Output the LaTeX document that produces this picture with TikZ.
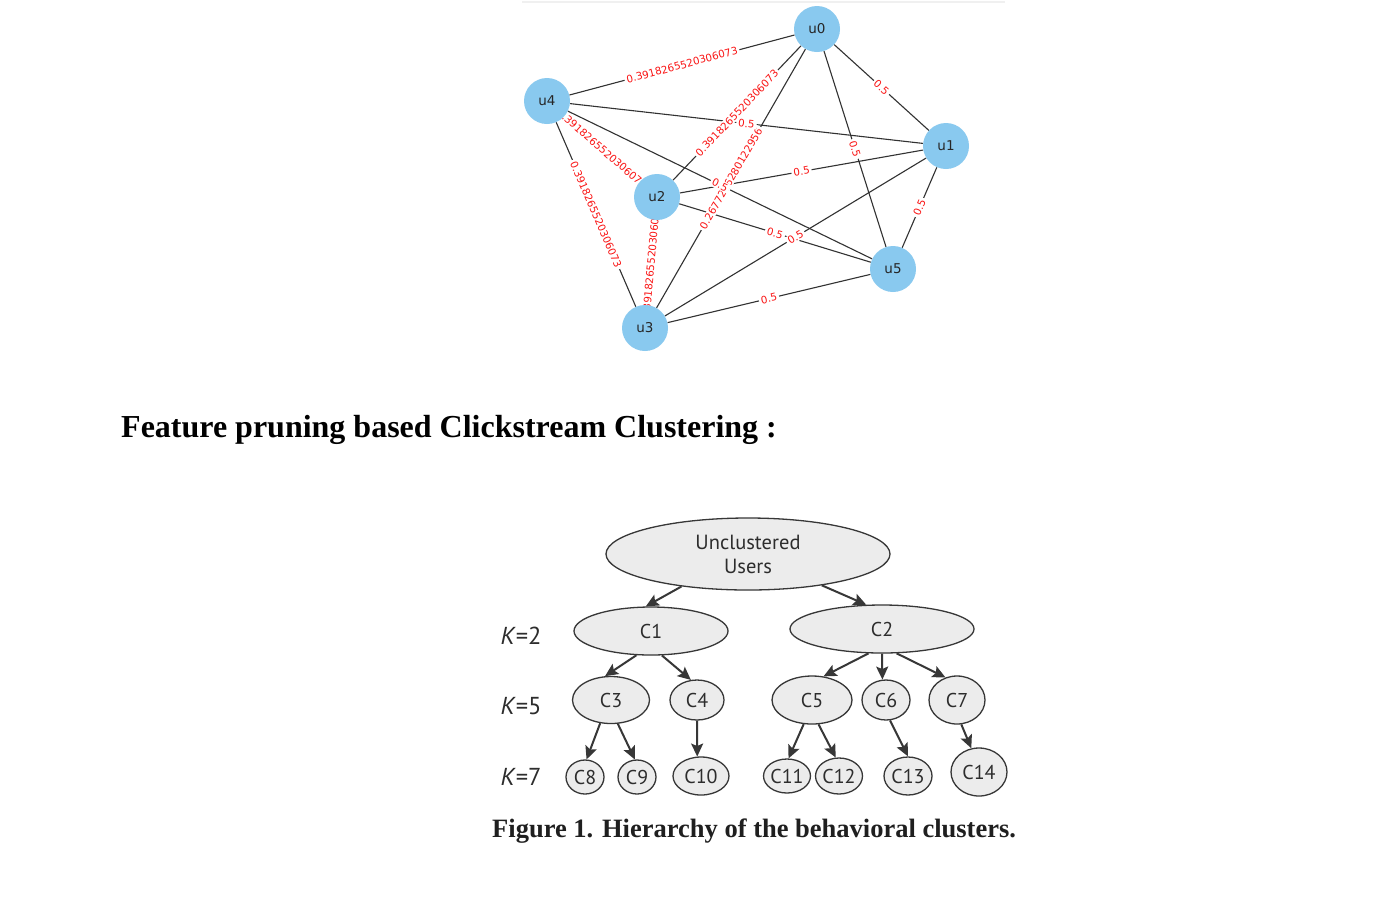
\documentclass[tikz,border=0pt]{standalone}
\usepackage{fontspec}
\setmainfont{Liberation Serif}
\newfontfamily\dv{DejaVu Sans}
\newfontfamily\pts{PT Sans}
\usetikzlibrary{shapes.geometric,arrows.meta}
\pgfdeclarelayer{bg}
\pgfdeclarelayer{lab}
\pgfsetlayers{bg,lab,main}
\definecolor{nodeblue}{RGB}{137,201,239}
\definecolor{edgegray}{RGB}{50,50,50}
\definecolor{lblred}{RGB}{250,20,20}
\definecolor{treefill}{RGB}{236,236,236}
\definecolor{treeline}{RGB}{55,55,55}
\definecolor{treetext}{RGB}{45,45,45}
\tikzset{
  gnode/.style={circle,fill=nodeblue,minimum size=46pt,inner sep=0pt,font=\dv\fontsize{13.5}{15}\selectfont,text=black!85},
  gedge/.style={draw=edgegray,line width=1.1pt},
  elbl/.style={sloped,midway,fill=white,inner xsep=2pt,inner ysep=1pt,text=lblred,font=\dv\fontsize{10.3}{12}\selectfont},
  tnode/.style={ellipse,draw=treeline,fill=treefill,line width=1.3pt,inner sep=0pt,text=treetext,font=\pts\fontsize{20}{22}\selectfont},
  tarrow/.style={draw=treeline,line width=2pt,-{Stealth[length=13pt,width=12pt,inset=2.5pt]}},
  klabel/.style={text=treetext,font=\pts\fontsize{24.5}{26}\selectfont},
}
\begin{document}
\begin{tikzpicture}[x=1pt,y=-1pt]
\useasboundingbox (0,0) rectangle (1388,903);
\begin{pgfonlayer}{bg}
\fill[white] (0,0) rectangle (1388,903);
\draw[black!6,line width=2pt] (522,2) -- (1005,2);
\end{pgfonlayer}
% graph nodes
\node[gnode] (u0) at (817,29) {u0};
\node[gnode] (u1) at (946,146) {u1};
\node[gnode] (u2) at (657,197) {u2};
\node[gnode] (u3) at (645,328) {u3};
\node[gnode] (u4) at (547,101) {u4};
\node[gnode] (u5) at (893,269) {u5};
\begin{pgfonlayer}{bg}
\draw[gedge] (u0) -- (u4);
\draw[gedge] (u0) -- (u1);
\draw[gedge] (u0) -- (u2);
\draw[gedge] (u0) -- (u3);
\draw[gedge] (u0) -- (u5);
\draw[gedge] (u1) -- (u4);
\draw[gedge] (u1) -- (u2);
\draw[gedge] (u1) -- (u3);
\draw[gedge] (u1) -- (u5);
\draw[gedge] (u4) -- (u2);
\draw[gedge] (u4) -- (u3);
\draw[gedge] (u4) -- (u5);
\draw[gedge] (u2) -- (u5);
\draw[gedge] (u2) -- (u3);
\draw[gedge] (u3) -- (u5);
\end{pgfonlayer}
\begin{pgfonlayer}{lab}
\path (u0.center) -- (u4.center) node[elbl] (l04) {0.3918265520306073};
\path (u0.center) -- (u2.center) node[elbl] (l02) {0.3918265520306073};
\path (u0.center) -- (u3.center) node[elbl] (l03) {0.2677216280122956};
\path (u4.center) -- (u2.center) node[elbl] (l42) {0.3918265520306073};
\path (u4.center) -- (u3.center) node[elbl] (l43) {0.3918265520306073};
\path (u2.center) -- (u3.center) node[elbl] (l23) {0.3918265520306073};
\path (u0.center) -- (u1.center) node[elbl] (l01) {0.5};
\path (u0.center) -- (u5.center) node[elbl] (l05) {0.5};
\path (u1.center) -- (u4.center) node[elbl] (l14) {0.5};
\path (u1.center) -- (u2.center) node[elbl] (l12) {0.5};
\path (u1.center) -- (u3.center) node[elbl] (l13) {0.5};
\path (u1.center) -- (u5.center) node[elbl] (l15) {0.5};
\path (u4.center) -- (u5.center) node[elbl] (l45) {0.5};
\path (u2.center) -- (u5.center) node[elbl] (l25) {0.5};
\path (u3.center) -- (u5.center) node[elbl] (l35) {0.5};
\end{pgfonlayer}
% title
\node[anchor=base west,inner sep=0pt,font=\bfseries\fontsize{32}{36}\selectfont] (title) at (121,437) {Feature pruning based Clickstream Clustering :};
% tree
\node[tnode,minimum width=284pt,minimum height=72pt,align=center,font=\pts\fontsize{20.5}{24}\selectfont] (t0) at (748,554) {Unclustered\\Users};
\node[tnode,minimum width=154pt,minimum height=48pt] (c1) at (651,631) {C1};
\node[tnode,minimum width=184pt,minimum height=48pt] (c2) at (882,629) {C2};
\node[tnode,minimum width=77pt,minimum height=47pt] (c3) at (611,700) {C3};
\node[tnode,minimum width=54pt,minimum height=40pt] (c4) at (697,700) {C4};
\node[tnode,minimum width=80pt,minimum height=48pt] (c5) at (812,700) {C5};
\node[tnode,minimum width=48pt,minimum height=40pt] (c6) at (886,700) {C6};
\node[tnode,minimum width=56pt,minimum height=48pt] (c7) at (957,700) {C7};
\node[tnode,minimum width=38pt,minimum height=34pt] (c8) at (585,777) {C8};
\node[tnode,minimum width=38pt,minimum height=34pt] (c9) at (637,777) {C9};
\node[tnode,minimum width=56pt,minimum height=38pt] (c10) at (701,776) {C10};
\node[tnode,minimum width=38pt,minimum height=34pt] (c11) at (787,776) {C11};
\node[tnode,minimum width=44pt,minimum height=36pt] (c12) at (839,776) {C12};
\node[tnode,minimum width=48pt,minimum height=38pt] (c13) at (908,776) {C13};
\node[tnode,minimum width=56pt,minimum height=48pt] (c14) at (979,772) {C14};
\node[klabel] (k2) at (521,636) {\textit{K}=2};
\node[klabel] (k5) at (521,706) {\textit{K}=5};
\node[klabel] (k7) at (521,777) {\textit{K}=7};
\draw[tarrow] (t0.206) -- (c1.102);
\draw[tarrow] (t0.337) -- (c2.123);
\draw[tarrow] (c1.239) -- (c3.104);
\draw[tarrow] (c1.294) -- (c4.107);
\draw[tarrow] (c2.241) -- (c5.64);
\draw[tarrow] (c2.270) -- (c6.100);
\draw[tarrow] (c2.301) -- (c7.117);
\draw[tarrow] (c3.245) -- (c8.85);
\draw[tarrow] (c3.286) -- (c9.97);
\draw[tarrow] (c4.270) -- (c10.101);
\draw[tarrow] (c5.251) -- (c11.85);
\draw[tarrow] (c5.285) -- (c12.100);
\draw[tarrow] (c6.281) -- (c13.90);
\draw[tarrow] (c7.280) -- (c14.108);
% caption
\node[anchor=base west,inner sep=0pt,text=black!88,font=\bfseries\fontsize{26.5}{30}\selectfont] (cap) at (492,837) {Figure 1. Hierarchy of the behavioral clusters.};
\end{tikzpicture}
\end{document}
